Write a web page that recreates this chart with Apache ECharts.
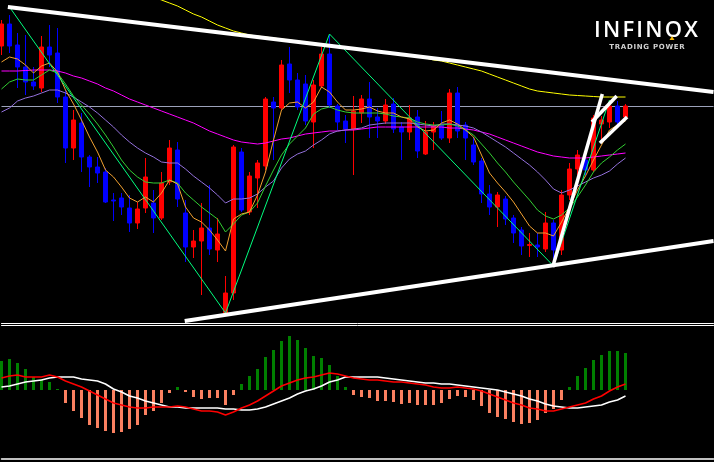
<!DOCTYPE html>
<html>
<head>
<meta charset="utf-8">
<script src="https://cdn.jsdelivr.net/npm/echarts@6/dist/echarts.min.js"></script>
<style>
html,body{margin:0;padding:0;background:#000;}
#chart{width:714px;height:462px;}
</style>
</head>
<body>
<div id="chart"></div>
<script>
// ---- price candles (arbitrary price units) ----
const candleOpen  = [284,306,285,263,248,242,283,277,233,182,207,173,163,158,130,132,122,107,122,127,112,148,180,117,83,89,102,80,17,37,178,118,152,164,228,222,266,250,246,208,244,276,224,209,201,217,231,213,209,226,203,198,213,176,198,205,192,237,205,185,169,136,123,131,112,100,84.5,85,81,107,80,135,161,170,160,206,208,224,213];
const candleClose = [306,284,263,248,244,283,275,233,182,210,173,163,157,128,129,123,107,121,153,112,147,182,131,83,89,102,81,96,37,183,120,154,167,231,222,265,250,223,209,245,276,225,208,201,219,231,213,209,225,201,198,212,179,198,204,192,237,199,192,168,136,123,135,111,97,84,85.5,83,107,80,135,161,175,160,212,210,224,208,224];
const candleLow   = [275,277,242,235,240,238,263,227,167,170,158,143,147,127,109,115,98,101,117,97,110,145,123,68,72,35,75,68,15,30,118,115,122,160,170,220,237,220,205,182,242,222,200,187,155,207,192,192,206,197,170,190,172,175,180,190,187,192,170,165,127,115,103,105,87,75,73,73,78,64,75,130,155,155,158,190,202,205,210];
const candleHigh  = [310,315,297,295,263,294,305,302,240,220,217,175,173,162,137,137,135,128,172,140,158,190,188,130,100,127,145,112,54,185,182,158,170,233,233,270,283,257,255,250,283,295,226,215,234,235,248,222,231,232,208,225,220,209,208,219,241,243,208,193,172,145,138,134,115,103,97,97,118,110,140,167,180,175,215,214,230,229,226];

// ---- moving averages ----
const maYellow = [null,null,null,null,null,null,null,null,null,null,null,null,null,null,null,null,null,null,337,333,330,327,324,320,316,313,309,305,302,299,297,295,294,293,292,291,290,289,288,287,286,285,284,283,282,281,280,279,278,277,276,274,273,272,270,269,267,265,263,261,259,256,253,250,247,244,241,239,238,237,236,235,234.5,234,233.5,233,233,233,233];
const maMagenta = [259,259,259,259.5,260,260,260,259,257,254,252,249,246,242,239,235,231,228,225,222,219,216,213,210,207,203,199,196,193,190,188,187,186,187,189,191,192,194,196,197,198,199,199,200,200,201,202,203,203,203,203,203,203,203,203,203,202,202,201,200,198,196,193,190,187,184,181,178,176,174,173,172,172,172,173,174,175,176,177];
const maPurple = [218,222,229,232,234,237,240,240,237,233,228,223,217,210,203,195,188,182,177,173,168,167,167,161,154,148,142,135,127,131,131,132,136,143,149,162,171,176,179,185,190,196,199,200,201,202,205,206,207,207,207,207,206,205,204,206,206,205,204,202,198,193,188,183,177,171,165,158,150,141,137,140,144,148,152,155,159,166,172];
const maGreen = [241,248,251,250,250,255,260,257,246,234,225,216,206,195,183,170,160,153,148,147,147,150,147,137,130,123,117,111,98,106,115,118,127,144,160,175,186,194,202,216,221,223,220,218,217,217,217,217,216,214,213,212,208,206,205,205,206,204,200,195,186,177,167,158,148,139,130,120,114,111,115,122,133,145,158,167,173,180,186];
const maOrange = [268,273,271,265,257,264,267,258,240,226,210,193,178,160,153,143,132,128,133,128,137,150,146,123,112,108,100,90,79,111,116,118,135,158,190,220,227,228,222,228,243,238,228,220,220,221,223,219,217,217,213,211,203,199,200,207,210,206,200,193,175,157,147,138,128,116,104,97,97,94,108,123,140,154,170,185,200,205,209];

// ---- zigzag pivots (bar index, price) ----
const zigzagBars   = [1,28,41,69,76];
const zigzagPrices = [323,17,296,64,230];

// ---- drawn trend lines (bar index, price) ----
const trendUpper = [[0.8,323],[89,238]];
const trendLower = [[22.9,9],[89,89]];
const trendSteep = [[68.9,63],[75.1,236]];
const trendFlagA = [[73.8,208],[76.9,234]];
const trendFlagB = [[74.8,187],[78.2,213]];
const levelLine = 224;

// ---- MACD ----
const macdHist = [29,31,27,21,13,11,8,1,-13,-21,-28,-35,-38,-41,-43,-42,-39,-35,-25,-21,-13,-3,3,-2,-7,-9,-8,-8,-15,-5,6,14,21,33,40,49,54,50,42,34,32,25,14,3,-5,-7,-8,-11,-11,-12,-14,-13,-15,-15,-15,-13,-9,-6,-7,-10,-16,-23,-27,-29,-32,-34,-33,-30,-23,-19,-10,3,14,22,30,35,39,39,37];
const macdWhite = [3,4,6,8,9,10,12,13,13,13,11,10,9,6,1,-2,-6,-8,-11,-13,-15,-17,-17,-18,-18,-18,-18,-18,-19,-19,-20,-20,-19,-17,-14,-11,-8,-4,-1,1,4,8,10,13,13,13,13,13,12,11,10,9,8,7,7,6,6,5,4,3,2,1,0,-2,-4,-6,-9,-11,-14,-16,-17,-18,-18,-17,-16,-15,-12,-10,-6];
const macdRed = [12,14,15,13,13,13,15,13,9,6,3,-1,-5,-9,-13,-15,-17,-18,-18,-17,-17,-17,-16,-17,-19,-21,-21,-22,-25,-22,-18,-15,-11,-6,-1,4,7,10,12,13,15,17,16,14,12,11,10,10,9,8,8,7,6,5,3,2,2,3,2,1,-1,-4,-7,-10,-13,-15,-18,-19,-21,-21,-19,-17,-15,-13,-9,-6,-1,3,6];

const logoTitle = 'INFINOX';
const logoTagline = 'TRADING POWER';

const slotCount = 90;
const slots = [];
for (let i = 0; i < slotCount; i++) slots.push(String(i));

const candleData = candleOpen.map((o, i) => [o, candleClose[i], candleLow[i], candleHigh[i]]);
const zigzagData = zigzagBars.map((b, i) => [b, zigzagPrices[i]]);
const spaced = (s, sp) => s.split('').join(sp);

function maSeries(name, data, color) {
  return {name, type:'line', xAxisIndex:0, yAxisIndex:0, data, symbol:'none', showSymbol:false,
    lineStyle:{color, width:1}, clip:true, z:3, silent:true};
}
function trendSeries(name, data, width) {
  return {name, type:'line', xAxisIndex:1, yAxisIndex:0, data, symbol:'none', showSymbol:false,
    lineStyle:{color:'#ffffff', width}, clip:true, z:6, silent:true};
}
const hiddenAxis = {axisTick:{show:false}, axisLabel:{show:false}, splitLine:{show:false}};

const chart = echarts.init(document.getElementById('chart'), null, {renderer:'canvas'});
chart.setOption({
  backgroundColor:'#000000',
  animation:false,
  grid:[
    {left:1.5, right:0.5, top:0, height:323},
    {left:1.5, right:0.5, top:325, height:134}
  ],
  xAxis:[
    Object.assign({type:'category', gridIndex:0, data:slots, boundaryGap:false, position:'bottom',
      axisLine:{show:true, onZero:false, lineStyle:{color:'#ffffff', width:1}}}, hiddenAxis),
    {type:'value', gridIndex:0, min:0, max:89, show:false},
    Object.assign({type:'category', gridIndex:1, data:slots, boundaryGap:false, position:'top',
      axisLine:{show:true, onZero:false, lineStyle:{color:'#ffffff', width:1}}}, hiddenAxis),
    Object.assign({type:'category', gridIndex:1, data:slots, boundaryGap:false, position:'bottom',
      axisLine:{show:true, onZero:false, lineStyle:{color:'#ffffff', width:1.5}}}, hiddenAxis)
  ],
  yAxis:[
    {type:'value', gridIndex:0, min:7, max:330, show:false},
    {type:'value', gridIndex:1, min:-69, max:65, show:false}
  ],
  series:[
    {name:'price', type:'candlestick', xAxisIndex:0, yAxisIndex:0, data:candleData, barWidth:4, clip:false, z:2, silent:true,
      itemStyle:{color:'#ff0000', color0:'#0000ff', borderColor:'#ff0000', borderColor0:'#0000ff', borderColorDoji:'#ff0000', borderWidth:1},
      markLine:{silent:true, symbol:['none','none'], label:{show:false}, z:1,
        lineStyle:{color:'#9ca2ba', width:1, type:'solid'}, data:[{yAxis:levelLine}]}
    },
    maSeries('ma200', maYellow, '#ffff00'),
    maSeries('ma50', maMagenta, '#ff00ff'),
    maSeries('ma21', maPurple, '#9370db'),
    maSeries('ma10', maGreen, '#32cd32'),
    maSeries('ma5', maOrange, '#f0a030'),
    {name:'zigzag', type:'line', xAxisIndex:1, yAxisIndex:0, data:zigzagData, symbol:'none', showSymbol:false,
      lineStyle:{color:'#00ff7f', width:1}, z:4, silent:true},
    trendSeries('upper', trendUpper, 4),
    trendSeries('lower', trendLower, 4),
    trendSeries('steep', trendSteep, 3.5),
    trendSeries('flagA', trendFlagA, 3.5),
    trendSeries('flagB', trendFlagB, 3.5),
    {name:'hist', type:'bar', xAxisIndex:2, yAxisIndex:1, data:macdHist, barWidth:3, clip:false, silent:true,
      itemStyle:{color:p => p.value >= 0 ? '#008000' : '#fa8060'}},
    {name:'signalW', type:'line', xAxisIndex:2, yAxisIndex:1, data:macdWhite, symbol:'none', showSymbol:false,
      lineStyle:{color:'#ffffff', width:1.5}, z:4, silent:true},
    {name:'signalR', type:'line', xAxisIndex:2, yAxisIndex:1, data:macdRed, symbol:'none', showSymbol:false,
      lineStyle:{color:'#ff0000', width:1.5}, z:4, silent:true}
  ],
  graphic:[
    {type:'text', x:646, y:20, z:10, style:{text:spaced(logoTitle, '\u200A'), fill:'#ffffff', font:'600 22px "Open Sans"', align:'center', verticalAlign:'top'}},
    {type:'text', x:647, y:44, z:10, style:{text:spaced(logoTagline, '\u200A'), fill:'#cfcfcf', font:'bold 7px "DejaVu Sans"', align:'center', verticalAlign:'top'}},
    {type:'polygon', z:11, shape:{points:[[669.5,40],[674.5,40],[672,36]]}, style:{fill:'#f2b705'}}
  ]
});
</script>
</body>
</html>
